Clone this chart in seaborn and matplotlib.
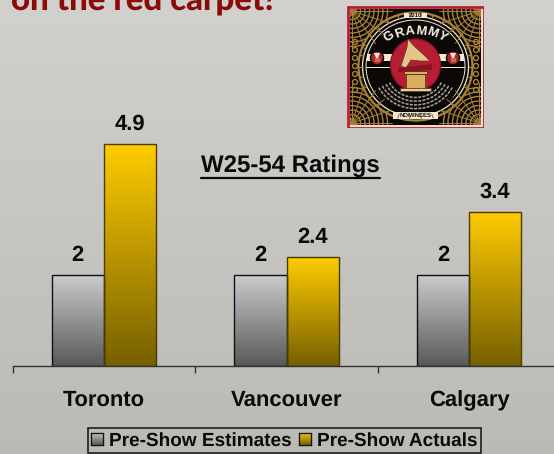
import numpy as np
import pandas as pd
import seaborn as sns
import matplotlib
matplotlib.use("Agg")
import matplotlib.pyplot as plt
from matplotlib.colors import LinearSegmentedColormap as LSC
from matplotlib.lines import Line2D
from matplotlib.patches import Ellipse, Rectangle, Polygon, Wedge, Arc

cities = ["Toronto", "Vancouver", "Calgary"]
estimates = [2, 2, 2]
actuals = [4.9, 2.4, 3.4]
series_names = ["Pre-Show Estimates", "Pre-Show Actuals"]
chart_title = "W25-54 Ratings"
headline = "on the red carpet!"

sns.set_theme(style="white")
plt.rcParams["font.family"] = ["Liberation Sans", "DejaVu Sans"]
plt.rcParams["text.hinting"] = "no_hinting"
plt.rcParams["text.hinting_factor"] = 1
W, H = 554, 454
fig = plt.figure(figsize=(W / 100, H / 100), dpi=100)

# background
bg = fig.add_axes([0, 0, 1, 1], zorder=-5)
bg.imshow(np.linspace(0, 1, 256)[:, None], aspect="auto",
          cmap=LSC.from_list("bg", ["#d2d1ce", "#bbbab5"]), extent=[0, 1, 0, 1])
bg.axis("off")

ax = fig.add_axes([12.5 / W, (H - 366) / H, 548 / W, 366 / H], zorder=1)
ax.patch.set_alpha(0)

df = pd.DataFrame({
    "city": cities * 2,
    "value": estimates + actuals,
    "series": [series_names[0]] * 3 + [series_names[1]] * 3,
})
grey_end = ["#cbcbcf", "#595959"]
gold_end = ["#ffcc00", "#766000"]
sns.barplot(data=df, x="city", y="value", hue="series", ax=ax, width=0.57, gap=0,
            palette=[grey_end[1], gold_end[1]], edgecolor="#1a1a1a", linewidth=1.0,
            saturation=1, legend=False, err_kws={"linewidth": 0})
ymax = 366 / 45.3
cmaps = [LSC.from_list("g", grey_end), LSC.from_list("y", gold_end)]
grad = np.linspace(0, 1, 256)[:, None]
for cont, cm, edge in zip(ax.containers, cmaps, ["#111111", "#4a3c00"]):
    for bar in cont:
        x0, h, w = bar.get_x(), bar.get_height(), bar.get_width()
        im = ax.imshow(grad, aspect="auto", cmap=cm, extent=[x0, x0 + w, 0, h], zorder=1.5)
        im.set_clip_path(bar)
        bar.set_facecolor("none")
        bar.set_edgecolor(edge)
        bar.set_zorder(3)
    ax.bar_label(cont, fmt="%g", padding=7, fontsize=16, fontweight="bold", color="#0a0a0a")
ax.set_xlim(-0.5, 2.5)
ax.set_ylim(0, ymax)
ax.set_xlabel("")
ax.set_ylabel("")
ax.set_yticks([])
ax.set_xticks([-0.5, 0.5, 1.5, 2.5])
ax.set_xticklabels([])
ax.set_xticks(range(3), cities, minor=True)
ax.tick_params(axis="x", which="major", length=5, width=1, color="#333333", bottom=True)
ax.tick_params(axis="x", which="minor", length=0, pad=17.5, labelsize=16.1, labelcolor="#0a0a0a")
for t in ax.get_xticklabels(minor=True):
    t.set_fontweight("bold")
sns.despine(ax=ax, left=True, top=True, right=True)
ax.spines["bottom"].set_color("#333333")
ax.spines["bottom"].set_linewidth(1)

# chart title with underline
fig.text(290.5 / W, 1 - 165.5 / H, chart_title, ha="center", va="center",
         fontsize=17.3, fontweight="bold", color="#0a0a0a")
fig.add_artist(Line2D([201 / W, 380 / W], [1 - 178 / H] * 2, color="#0a0a0a", lw=1.6))

# headline, cut by the top edge
fig.text(11 / W, 1 - 10 / H, headline, ha="left", va="baseline", fontsize=23.5,
         fontweight="black", family="Lato", color="#8b0a0a")

# legend
handles = [Rectangle((0, 0), 1, 1, fc=c, ec="#111111", lw=0.8) for c in ["#909090", "#c09a00"]]
leg = fig.legend(handles, series_names, loc="lower left",
                 bbox_to_anchor=(88 / W, 1 - 453 / H), bbox_transform=fig.transFigure,
                 ncol=2, frameon=True, prop={"weight": "bold", "size": 13.7},
                 fancybox=False, edgecolor="#111111", facecolor="none", framealpha=1,
                 borderpad=0.18, handlelength=0.62, handleheight=0.62,
                 handletextpad=0.3, columnspacing=0.4, borderaxespad=0)
leg.get_frame().set_linewidth(1.1)
leg.get_frame().set_facecolor("none")
for t in leg.get_texts():
    t.set_color("#0a0a0a")
fig.canvas.draw()
for p, cm in zip(leg.get_patches(), cmaps):
    bb = p.get_window_extent().transformed(fig.transFigure.inverted())
    a = fig.add_axes([bb.x0, bb.y0, bb.width, bb.height], zorder=6)
    a.imshow(grad, aspect="auto", cmap=cm)
    a.set_xticks([]); a.set_yticks([])
    for s in a.spines.values():
        s.set_color("#111111"); s.set_linewidth(0.9)

# album-cover emblem
em = fig.add_axes([347 / W, 1 - 128 / H, 137 / W, 122 / H], zorder=2)
em.set_xlim(347, 484); em.set_ylim(128, 6); em.axis("off")
RED, GOLD, CREAM, BLK = "#b81e33", "#a98238", "#f2ead6", "#0b0806"
em.add_patch(Rectangle((347, 6), 137, 122, fc="#e8dfd0", ec="none"))
em.add_patch(Rectangle((347.5, 6.5), 136, 121, fc="none", ec=RED, lw=2.0))
field = Rectangle((350, 9), 131, 116, fc=BLK, ec="none")
em.add_patch(field)
# corner ornament: dense gold lattice clipped to the field
for cx0, cy0 in [(352, 11), (479, 11), (352, 123), (479, 123)]:
    for r in np.arange(4, 40, 4.5):
        p = Ellipse((cx0, cy0), 2 * r, 2 * r, fc="none", ec=GOLD, lw=1.0)
        em.add_patch(p); p.set_clip_path(field)
    for ang in np.deg2rad(np.arange(0, 360, 18)):
        l, = em.plot([cx0, cx0 + 40 * np.cos(ang)], [cy0, cy0 + 40 * np.sin(ang)], color=GOLD, lw=0.7)
        l.set_clip_path(field)
for y in np.arange(42, 94, 8):
    em.add_patch(Ellipse((355, y), 5, 5, fc="none", ec=GOLD, lw=1))
    em.add_patch(Ellipse((476, y), 5, 5, fc="none", ec=GOLD, lw=1))
cx, cy = 415.5, 66.5
for (rx, ry), fc, ec, lw in [((57, 54), BLK, GOLD, 1.6), ((53, 50), BLK, CREAM, 0.9),
                             ((49.5, 46.5), BLK, CREAM, 0.7)]:
    em.add_patch(Ellipse((cx, cy), 2 * rx, 2 * ry, fc=fc, ec=ec, lw=lw))
for ang in np.deg2rad(np.arange(0, 360, 12)):
    em.plot([cx + 53 * np.cos(ang), cx + 57 * np.cos(ang)],
            [cy + 50 * np.sin(ang), cy + 54 * np.sin(ang)], color=GOLD, lw=0.9)
# cream band behind lateral medallions
em.add_patch(Rectangle((367, 54), 97, 7, fc=CREAM, ec="none"))
em.add_patch(Rectangle((366, 67), 99, 1.2, fc=CREAM, ec="none"))
# GRAMMY in cream on black
letters = "GRAMMY"
for ch, deg in zip(letters, np.linspace(-33, 33, len(letters))):
    a = np.deg2rad(deg)
    em.text(cx + 52 * np.sin(a) * 0.93, cy - 35.5 * np.cos(a), ch, ha="center", va="center",
            rotation=-deg, fontsize=9.5, fontweight="bold", color="#f4efe2")
# red disc
em.add_patch(Ellipse((cx, 65), 50, 52, fc=RED, ec="#8a1424", lw=1))
# lateral medallions
for mx in (377, 453):
    em.add_patch(Ellipse((mx, 58), 13, 14, fc=RED, ec=BLK, lw=1))
    em.add_patch(Rectangle((mx - 2.5, 58), 5, 4, fc=GOLD, ec="none"))
    em.add_patch(Polygon([(mx - 3, 53), (mx + 3, 53), (mx + 1, 58), (mx - 1, 58)], fc=CREAM, ec="none"))
# lower black sweep with fine print lines
em.add_patch(Wedge((cx, cy + 4), 46, 15, 165, width=20, fc=BLK, ec="none"))
for r in (29, 33, 37, 41):
    em.add_patch(Arc((cx, cy + 4), 2 * r, 2 * r * 0.93, theta1=25, theta2=155,
                     ec="#a9a49c", lw=1.1, ls=(0, (2, 0.8))))
# gramophone
em.add_patch(Polygon([(401, 66), (407, 47), (408, 39), (414, 46), (424, 55), (430, 61),
                      (420, 61), (411, 60), (406, 68)], fc="#e2c68a", ec="#5a3a10", lw=0.5))
em.add_patch(Polygon([(398, 68), (432, 64), (432, 70), (398, 72)], fc="#8a1424", ec="none"))
em.add_patch(Rectangle((406, 74), 19, 14, fc="#d9ad5c", ec="#5a3a10", lw=0.5))
em.add_patch(Rectangle((404, 71), 23, 3, fc="#d9ad5c", ec="#3a2408", lw=0.5))
em.add_patch(Rectangle((400, 88), 31, 3, fc="#e8cf99", ec="#3a2408", lw=0.4))
# year and nominees plates
em.add_patch(Rectangle((404, 12.5), 23, 5, fc=CREAM, ec="none"))
em.text(cx, 15.2, "2010", ha="center", va="center", fontsize=4.2, fontweight="bold", color="#111111")
em.add_patch(Rectangle((393, 112), 45, 6.5, fc=CREAM, ec="none"))
em.text(cx, 115.5, "NOMINEES", ha="center", va="center", fontsize=4.6, fontweight="bold", color="#111111")

fig.savefig("out.png", dpi=100)
